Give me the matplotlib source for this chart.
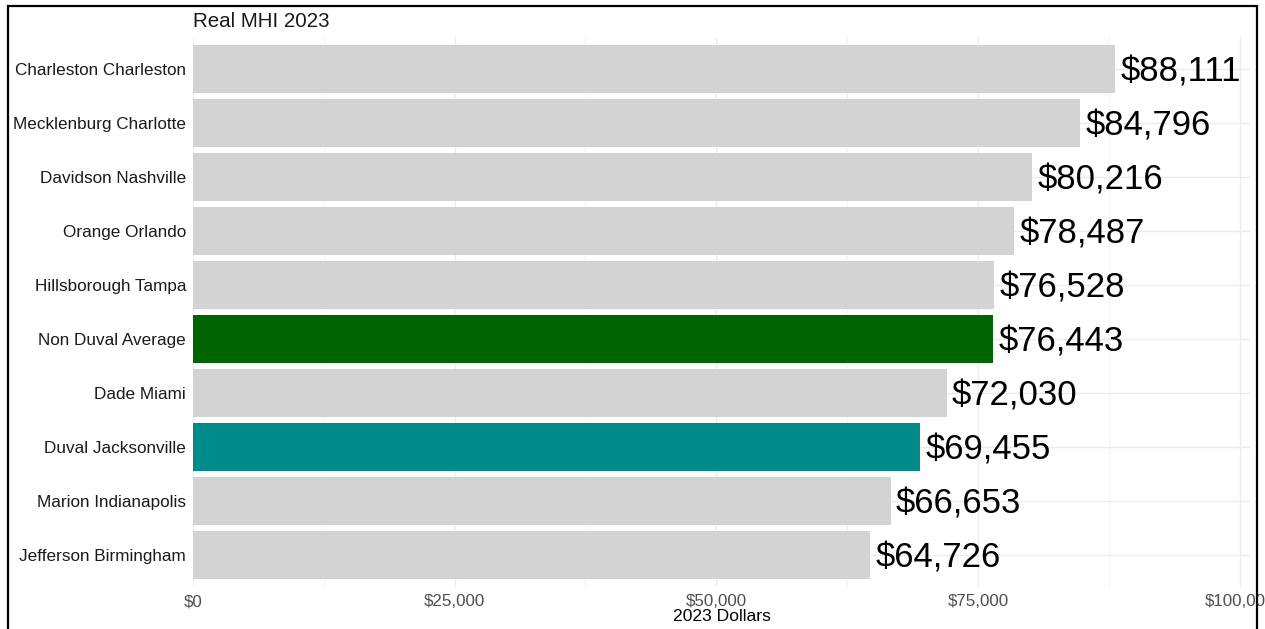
import matplotlib
matplotlib.use("Agg")
import matplotlib.pyplot as plt
from matplotlib.patches import Rectangle
from matplotlib.ticker import FuncFormatter, MultipleLocator

plt.rcParams['font.family'] = ['Liberation Sans', 'DejaVu Sans']

# Median household income by county/city, 2023 dollars (top to bottom)
places = ["Charleston Charleston", "Mecklenburg Charlotte", "Davidson Nashville",
          "Orange Orlando", "Hillsborough Tampa", "Non Duval Average",
          "Dade Miami", "Duval Jacksonville", "Marion Indianapolis",
          "Jefferson Birmingham"]
income = [88111, 84796, 80216, 78487, 76528, 76443, 72030, 69455, 66653, 64726]
highlight = {"Non Duval Average": "#006400", "Duval Jacksonville": "#008B8B"}
x_ticks = [0, 25000, 50000, 75000, 100000]

fig = plt.figure(figsize=(12.65, 6.29), dpi=100)
ax = fig.add_axes([193 / 1265, 41.6 / 629, (1250 - 193) / 1265, (592.4 - 41.6) / 629])

n = len(places)
ypos = list(range(n))[::-1]
colors = [highlight.get(p, "#D3D3D3") for p in places]
ax.barh(ypos, income, height=0.9, color=colors, zorder=2)

for y, v in zip(ypos, income):
    ax.text(v + 500, y, f"${v:,.0f}", va="center_baseline", ha="left", fontsize=25,
            color="black", zorder=3)

ax.set_xlim(0, 101000)
ax.set_ylim(-0.6, n - 1 + 0.6)
ax.set_yticks(ypos)
ax.set_yticklabels(places, fontsize=12.3, color="#1a1a1a")
ax.set_xticks(x_ticks)
ax.xaxis.set_minor_locator(MultipleLocator(12500))
ax.xaxis.set_major_formatter(FuncFormatter(lambda v, p: f"${v:,.0f}"))
ax.tick_params(axis="x", labelsize=12.2, labelcolor="#4d4d4d", length=0, pad=5)
ax.tick_params(axis="y", length=0, pad=5)
ax.tick_params(axis="x", which="minor", length=0)

ax.grid(True, axis="x", which="major", color="#EBEBEB", linewidth=1.0, zorder=0)
ax.grid(True, axis="x", which="minor", color="#F2F2F2", linewidth=0.6, zorder=0)
ax.grid(True, axis="y", which="major", color="#EBEBEB", linewidth=1.0, zorder=0)
for s in ax.spines.values():
    s.set_visible(False)

ax.set_xlabel("2023 Dollars", fontsize=12.6, color="black", labelpad=0)
ax.set_title("Real MHI 2023", loc="left", fontsize=14.8, pad=7, color="#1a1a1a")

# outer frame around the graphic
fig.patches.append(Rectangle((8 / 1265, -0.01), (1257 - 8) / 1265, (629 - 6) / 629 + 0.01,
                             transform=fig.transFigure, fill=False,
                             edgecolor="black", linewidth=1.6, zorder=10))

fig.savefig("out.png", dpi=100)
